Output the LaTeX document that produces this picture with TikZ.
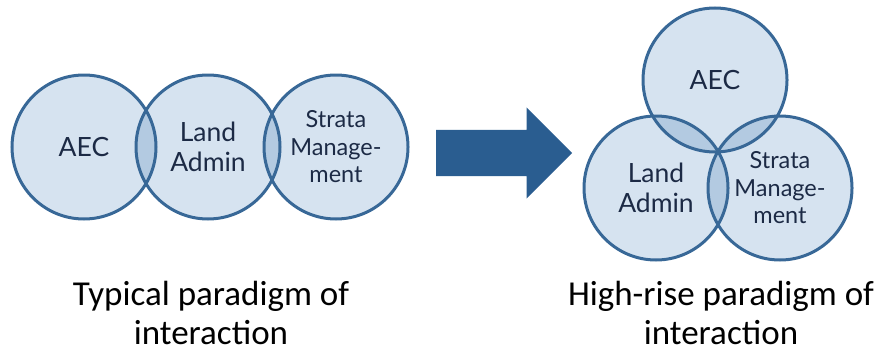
\documentclass[tikz,border=0pt]{standalone}
\usepackage{fontspec}
\setmainfont{Carlito}
\newfontfamily\labelfont{Lato}
\usetikzlibrary{shapes.arrows}
\definecolor{ringfill}{HTML}{D6E3F0}
\definecolor{ringlap}{HTML}{B3CAE1}
\definecolor{ringline}{HTML}{386897}
\definecolor{arrowblue}{HTML}{2A5D90}
\definecolor{labeltext}{HTML}{1C2A45}

\begin{document}
\begin{tikzpicture}[x=1pt,y=1pt,
    ring/.style={circle, draw=ringline, line width=3pt, minimum size=144pt, inner sep=0pt,
      align=center, text=labeltext, font=\labelfont\fontsize{26.5}{30}\selectfont},
    smallring/.style={ring, font=\labelfont\fontsize{23.5}{27.5}\selectfont},
    caption/.style={align=center, font=\fontsize{35}{39}\selectfont}]
  \useasboundingbox (0,0) rectangle (877,349);
  % circle centres
  \coordinate (c1) at (84,202);
  \coordinate (c2) at (208,202);
  \coordinate (c3) at (336,202);
  \coordinate (d1) at (715,269);
  \coordinate (d2) at (656,161);
  \coordinate (d3) at (780,161);
  % light fill
  \foreach \c in {c1,c2,c3,d1,d2,d3}
    \fill[ringfill] (\c) circle (72pt);
  % overlaps
  \foreach \a/\b in {c1/c2,c2/c3,d1/d2,d1/d3,d2/d3}{
    \begin{scope}
      \clip (\a) circle (72pt);
      \fill[ringlap] (\b) circle (72pt);
    \end{scope}}
  % typical paradigm
  \node[ring] (aec) at (c1) {AEC};
  \node[ring] (land) at (c2) {Land\\Admin};
  \node[smallring] (strata) at (c3) {Strata\\Manage-\\ment};
  % high-rise paradigm
  \node[ring] (aec2) at (d1) {AEC};
  \node[ring] (land2) at (d2) {Land\\Admin};
  \node[smallring] (strata2) at (d3) {Strata\\Manage-\\ment};
  % big arrow between
  \node[single arrow, fill=arrowblue, minimum height=136pt, minimum width=91pt,
    single arrow head extend=22.5pt, inner xsep=0pt, inner ysep=23pt,
    anchor=tail] (move) at (436,196) {};
  % captions
  \node[caption, anchor=base] (typical) at (211,5) {Typical paradigm of\\interaction};
  \node[caption, anchor=base] (highrise) at (721,5) {High-rise paradigm of\\interaction};
\end{tikzpicture}
\end{document}
